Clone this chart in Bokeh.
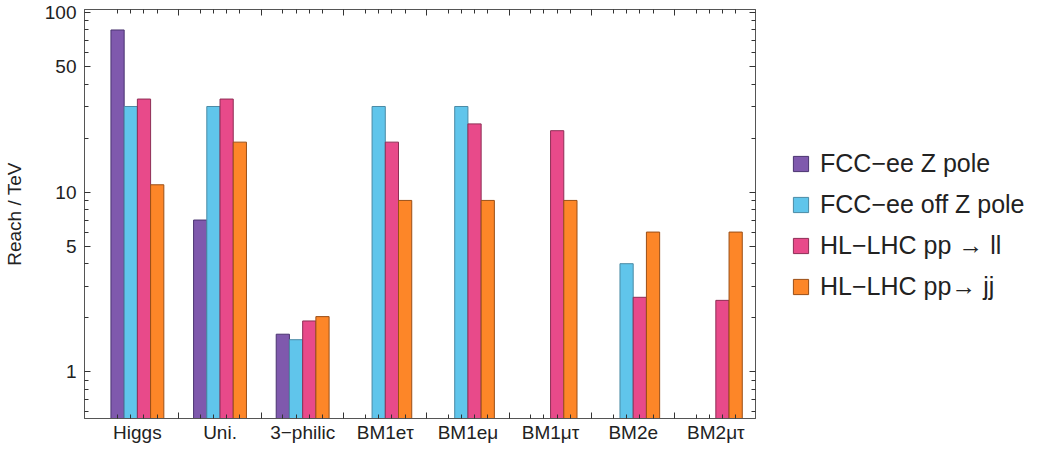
import numpy as np
from bokeh.plotting import figure
from bokeh.layouts import row
from bokeh.models import (ColumnDataSource, FixedTicker, LinearAxis, LogAxis,
                          Legend, LegendItem, NumeralTickFormatter, Range1d)
from bokeh.transform import dodge
from bokeh.embed import file_html
from bokeh.resources import INLINE

# ---- data ----
categories = ["Higgs", "Uni.", "3\u2212philic", "BM1e\u03c4", "BM1e\u03bc", "BM1\u03bc\u03c4", "BM2e", "BM2\u03bc\u03c4"]
series_names = ["FCC\u2212ee Z pole", "FCC\u2212ee off Z pole", "HL\u2212LHC pp \u2192 ll", "HL\u2212LHC pp\u2192 jj"]
fcc_z_pole = [80, 7.0, 1.62, None, None, None, None, None]
fcc_off_z_pole = [30, 30, 1.51, 30, 30, None, 4.0, None]
hl_lhc_ll = [33, 33, 1.92, 19, 24, 22, 2.6, 2.5]
hl_lhc_jj = [11, 19, 2.03, 9.0, 9.0, 9.0, 6.0, 6.0]
y_major_ticks = [1, 5, 10, 50, 100]
y_minor_ticks = [0.6, 0.7, 0.8, 0.9, 2, 3, 4, 6, 7, 8, 9, 20, 30, 40, 60, 70, 80, 90]

# ---- styles ----
fill_colors = ["#7F59AD", "#60C5EB", "#E84A8A", "#FD8628"]
edge_colors = ["#4A3470", "#4A8AA5", "#8E2E55", "#9A4F17"]
bar_w = 0.16
offsets = [-1.5 * bar_w, -0.5 * bar_w, 0.5 * bar_w, 1.5 * bar_w]
FONT = "Liberation Sans"
TXT = "#222222"
FRAME = "#555555"
TICK = "#333333"

centers = list(range(1, len(categories) + 1))

p = figure(width=762, height=445, y_axis_type="log",
           x_range=Range1d(0.36, 8.48), y_range=Range1d(0.55, 104),
           output_backend="svg", toolbar_location=None,
           min_border_left=78, min_border_right=7,
           min_border_top=9, min_border_bottom=26)
p.xgrid.visible = False
p.ygrid.visible = False
p.xaxis.visible = False
p.outline_line_color = FRAME
p.background_fill_color = "white"
p.border_fill_color = "white"

series = [fcc_z_pole, fcc_off_z_pole, hl_lhc_ll, hl_lhc_jj]
for vals, off, fc, ec in zip(series, offsets, fill_colors, edge_colors):
    xs = [c for c, v in zip(centers, vals) if v is not None]
    ys = [v for v in vals if v is not None]
    src = ColumnDataSource(dict(xc=xs, top=ys))
    p.vbar(x=dodge("xc", off), top="top", bottom=0.01, width=bar_w,
           source=src, fill_color=fc, line_color=ec, line_width=1)

# y axis left
ya = p.yaxis[0]
ya.ticker = FixedTicker(ticks=y_major_ticks, minor_ticks=y_minor_ticks)
ya.formatter = NumeralTickFormatter(format="0")
ya.axis_label = "Reach / TeV"
ya.axis_label_text_font = FONT
ya.axis_label_text_font_size = "19px"
ya.axis_label_text_font_style = "normal"
ya.axis_label_text_color = TXT
ya.axis_label_standoff = 17
ya.major_label_text_font = FONT
ya.major_label_text_font_size = "19px"
ya.major_label_text_color = TXT
ya.major_label_standoff = 8
ya.major_tick_in = 6
ya.major_tick_out = 0
ya.minor_tick_in = 4
ya.minor_tick_out = 0
ya.axis_line_color = FRAME
ya.major_tick_line_color = TICK
ya.minor_tick_line_color = TICK

# x ticks
boundaries = [c + 0.5 for c in centers[:-1]]
bar_centers = [c + o for c in centers for o in offsets]


def style_frame_axis(ax):
    ax.formatter = NumeralTickFormatter(format="0")
    ax.major_label_text_font_size = "1px"
    ax.major_label_text_color = None
    ax.major_label_standoff = 0
    ax.major_tick_in = 6
    ax.major_tick_out = 0
    ax.minor_tick_in = 4
    ax.minor_tick_out = 0
    ax.axis_line_color = FRAME
    ax.major_tick_line_color = TICK
    ax.minor_tick_line_color = TICK
    return ax


p.add_layout(style_frame_axis(LinearAxis(ticker=FixedTicker(ticks=boundaries, minor_ticks=bar_centers))), "below")

lab = LinearAxis(ticker=FixedTicker(ticks=centers, minor_ticks=[]))
lab.major_label_overrides = {c: name for c, name in zip(centers, categories)}
lab.major_label_text_font = FONT
lab.major_label_text_font_size = "19px"
lab.major_label_text_color = TXT
lab.major_label_standoff = 3
lab.axis_line_color = None
lab.major_tick_line_color = None
lab.minor_tick_line_color = None
lab.major_tick_in = 0
lab.major_tick_out = 0
p.add_layout(lab, "below")

p.add_layout(style_frame_axis(LinearAxis(ticker=FixedTicker(ticks=boundaries, minor_ticks=bar_centers))), "above")
p.add_layout(style_frame_axis(LogAxis(ticker=FixedTicker(ticks=y_major_ticks, minor_ticks=y_minor_ticks))), "right")

# ---- legend panel ----
p2 = figure(width=274, height=445, x_range=Range1d(0, 1), y_range=Range1d(0, 1),
            output_backend="svg", toolbar_location=None,
            min_border_left=0, min_border_right=0, min_border_top=0, min_border_bottom=0)
p2.axis.visible = False
p2.xgrid.visible = False
p2.ygrid.visible = False
p2.outline_line_color = None
p2.border_fill_color = "white"

leg_renderers = []
for fc, ec in zip(fill_colors, edge_colors):
    # one off-range bar per series so that the legend has a glyph to draw
    r = p2.vbar(x=[5], top=[5], bottom=[4], width=0.1, fill_color=fc, line_color=ec, line_width=1)
    leg_renderers.append(r)

legend = Legend(items=[LegendItem(label=n, renderers=[r]) for n, r in zip(series_names, leg_renderers)],
                location=(29, 117), margin=0, padding=0,
                glyph_width=19, glyph_height=19, label_standoff=10, spacing=12,
                label_height=28,
                label_text_font=FONT, label_text_font_size="25px", label_text_color=TXT,
                border_line_color=None, background_fill_alpha=0)
p2.add_layout(legend, "center")

layout = row(p, p2)
open("out.html", "w").write(file_html(layout, INLINE))
